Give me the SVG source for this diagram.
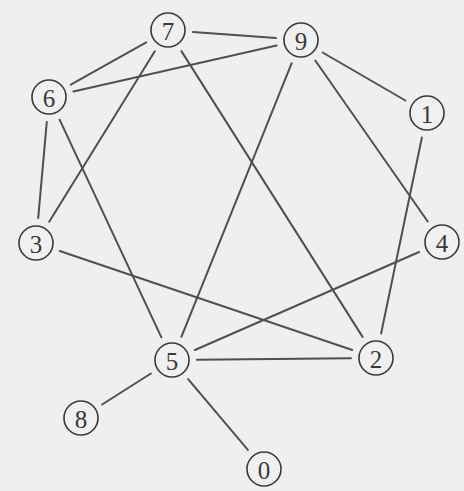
<svg xmlns="http://www.w3.org/2000/svg" width="464" height="491" viewBox="0 0 464 491">
<style>
.edge{stroke:#505050;stroke-width:2;stroke-linecap:round}
.node circle{fill:#f0f0f0;stroke:#3a3a3a;stroke-width:1.6}
.node text{font-family:"Liberation Serif",serif;font-size:25px;fill:#3a3a3a;text-anchor:middle;dominant-baseline:central}
</style>
<rect width="464" height="491" fill="#efefef"/>
<g id="connectors">
<line class="edge" x1="193" y1="32" x2="276" y2="38"/>
<line class="edge" x1="146.2" y1="42.3" x2="70.8" y2="84.7"/>
<line class="edge" x1="73.4" y1="91.5" x2="276.6" y2="45.5"/>
<line class="edge" x1="154.8" y1="51.3" x2="49.2" y2="221.8"/>
<line class="edge" x1="181.4" y1="51.1" x2="362.6" y2="336.9"/>
<line class="edge" x1="46.8" y1="121.9" x2="38.2" y2="218.1"/>
<line class="edge" x1="59.6" y1="119.7" x2="161.4" y2="337.4"/>
<line class="edge" x1="291.7" y1="63.2" x2="181.4" y2="336.8"/>
<line class="edge" x1="322.6" y1="52.5" x2="405.4" y2="100.5"/>
<line class="edge" x1="315.3" y1="60.5" x2="427.7" y2="221.5"/>
<line class="edge" x1="421.9" y1="137.5" x2="381.1" y2="333.5"/>
<line class="edge" x1="59.7" y1="251" x2="352.3" y2="350"/>
<line class="edge" x1="419.1" y1="252" x2="194.9" y2="350"/>
<line class="edge" x1="197" y1="359.8" x2="351" y2="358.2"/>
<line class="edge" x1="150.9" y1="373.5" x2="102.1" y2="404.5"/>
<line class="edge" x1="188.1" y1="379.1" x2="247.9" y2="449.9"/>
</g>
<g id="node0" class="node"><circle cx="264" cy="469" r="17"/><text x="264" y="470">0</text></g>
<g id="node1" class="node"><circle cx="427" cy="113" r="17"/><text x="427" y="114">1</text></g>
<g id="node2" class="node"><circle cx="376" cy="358" r="17"/><text x="376" y="359">2</text></g>
<g id="node3" class="node"><circle cx="36" cy="243" r="17"/><text x="36" y="244">3</text></g>
<g id="node4" class="node"><circle cx="442" cy="242" r="17"/><text x="442" y="243">4</text></g>
<g id="node5" class="node"><circle cx="172" cy="360" r="17"/><text x="172" y="361">5</text></g>
<g id="node6" class="node"><circle cx="49" cy="97" r="17"/><text x="49" y="98">6</text></g>
<g id="node7" class="node"><circle cx="168" cy="30" r="17"/><text x="168" y="31">7</text></g>
<g id="node8" class="node"><circle cx="81" cy="418" r="17"/><text x="81" y="419">8</text></g>
<g id="node9" class="node"><circle cx="301" cy="40" r="17"/><text x="301" y="41">9</text></g>
</svg>
